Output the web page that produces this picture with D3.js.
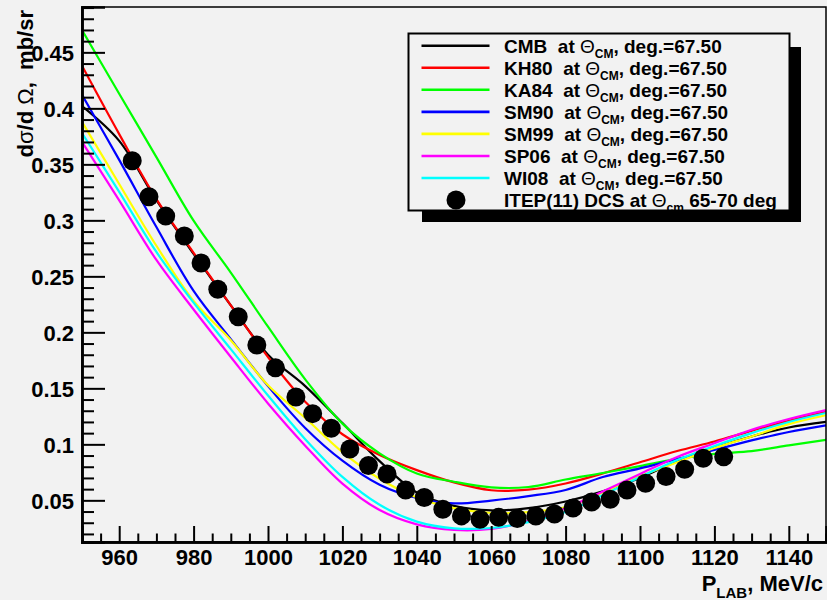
<!DOCTYPE html>
<html>
<head>
<meta charset="utf-8">
<script src="https://cdn.jsdelivr.net/npm/d3@7/dist/d3.min.js"></script>
<style>
  html, body { margin: 0; padding: 0; background: #f2f2f2; }
  svg { display: block; }
  text { font-family: "Liberation Sans", Arial, Helvetica, sans-serif; font-weight: bold; fill: #000; }
</style>
</head>
<body>
<svg id="chart" width="827" height="600"></svg>
<script>
// Momentum grid (MeV/c) on which the model curves are tabulated
const pGrid = [950, 960, 970, 980, 990, 1000, 1010, 1020, 1030, 1040, 1050,
               1060, 1070, 1080, 1090, 1100, 1110, 1120, 1130, 1140, 1150];

// Differential cross sections (mb/sr) at theta_CM = 67.5 deg for each partial-wave solution
const cmb  = [0.402, 0.371, 0.318, 0.270, 0.224, 0.180, 0.152, 0.119, 0.085, 0.057, 0.045,
              0.041, 0.043, 0.049, 0.058, 0.070, 0.085, 0.097, 0.107, 0.115, 0.120];
const kh80 = [0.438, 0.377, 0.319, 0.271, 0.224, 0.178, 0.138, 0.109, 0.0905, 0.077, 0.066,
              0.059, 0.0595, 0.065, 0.074, 0.084, 0.094, 0.1025, 0.112, 0.121, 0.129];
const ka84 = [0.470, 0.413, 0.3565, 0.2997, 0.2534, 0.205, 0.158, 0.1185, 0.092, 0.074, 0.0666,
              0.0616, 0.0619, 0.0686, 0.0744, 0.0806, 0.087, 0.0915, 0.094, 0.099, 0.104];
const sm90 = [0.412, 0.354, 0.294, 0.237, 0.194, 0.152, 0.1146, 0.0854, 0.0639, 0.0521, 0.0473,
              0.0498, 0.0538, 0.0592, 0.0708, 0.0785, 0.0869, 0.095, 0.1035, 0.111, 0.117];
const sm99 = [0.388, 0.3325, 0.2773, 0.228, 0.193, 0.1527, 0.1235, 0.0931, 0.0693, 0.0525, 0.043,
              0.0387, 0.0395, 0.044, 0.057, 0.0717, 0.084, 0.0967, 0.107, 0.118, 0.126];
const sp06 = [0.370, 0.3178, 0.2646, 0.2204, 0.178, 0.1365, 0.0988, 0.0649, 0.0413, 0.0285, 0.0235,
              0.0244, 0.0315, 0.043, 0.058, 0.0735, 0.0887, 0.101, 0.113, 0.1226, 0.1306];
const wi08 = [0.378, 0.3254, 0.2718, 0.2265, 0.185, 0.1436, 0.1046, 0.0709, 0.046, 0.031, 0.025,
              0.0253, 0.0306, 0.0396, 0.0547, 0.0708, 0.086, 0.0985, 0.110, 0.120, 0.128];

const modelNames  = ["CMB", "KH80", "KA84", "SM90", "SM99", "SP06", "WI08"];
const modelValues = [cmb, kh80, ka84, sm90, sm99, sp06, wi08];
const modelColors = ["#000000", "#ff0000", "#00ff00", "#0000ff", "#ffff00", "#ff00ff", "#00ffff"];

// ITEP measurement, theta_cm 65-70 deg
const itepP   = [963.5, 968, 972.5, 977.5, 982, 986.5, 992, 997, 1002, 1007.5, 1012, 1017,
                 1022, 1027, 1032, 1037, 1042, 1047, 1052, 1057, 1062, 1067, 1072, 1077,
                 1082, 1087, 1092, 1096.5, 1101.5, 1107, 1112, 1117, 1122.5];
const itepDcs = [0.3532, 0.3211, 0.3038, 0.2860, 0.2620, 0.2385, 0.2139, 0.1887, 0.1683, 0.1422,
                 0.1274, 0.1143, 0.0958, 0.0811, 0.0735, 0.0592, 0.0525, 0.0420, 0.0361, 0.0331,
                 0.0348, 0.0338, 0.0360, 0.0378, 0.0431, 0.0485, 0.0510, 0.0592, 0.0652, 0.0713,
                 0.0777, 0.0875, 0.0889];

// Axis ticks
const xMajorTicks = [960, 980, 1000, 1020, 1040, 1060, 1080, 1100, 1120, 1140];
const yMajorTicks = [0.05, 0.1, 0.15, 0.2, 0.25, 0.3, 0.35, 0.4, 0.45];
const yTickLabels = ["0.05", "0.1", "0.15", "0.2", "0.25", "0.3", "0.35", "0.4", "0.45"];

const svg = d3.select("#chart");
const plotLeft = 82, plotRight = 826, plotTop = 7, plotBottom = 542;

const x = d3.scaleLinear().domain([950, 1150]).range([plotLeft, plotRight]);
const y = d3.scaleLinear().domain([0.0128, 0.4905]).range([plotBottom, plotTop]);

svg.append("rect").attr("width", 827).attr("height", 600).attr("fill", "#f2f2f2");

svg.append("defs").append("clipPath").attr("id", "plotClip")
  .append("rect").attr("x", plotLeft).attr("y", plotTop)
  .attr("width", plotRight - plotLeft).attr("height", plotBottom - plotTop);

// Model curves
const line = d3.line()
  .x(d => x(d[0]))
  .y(d => y(d[1]))
  .curve(d3.curveCatmullRom.alpha(0.5));

const curves = svg.append("g").attr("clip-path", "url(#plotClip)");
modelValues.forEach((vals, i) => {
  curves.append("path")
    .datum(pGrid.map((p, k) => [p, vals[k]]))
    .attr("d", line)
    .attr("fill", "none")
    .attr("stroke", modelColors[i])
    .attr("stroke-width", 2.2);
});

// Data points
svg.append("g").selectAll("circle")
  .data(itepP.map((p, k) => [p, itepDcs[k]]))
  .join("circle")
  .attr("cx", d => x(d[0]))
  .attr("cy", d => y(d[1]))
  .attr("r", 9.5)
  .attr("fill", "#000");

// Frame
svg.append("rect")
  .attr("x", plotLeft).attr("y", plotTop)
  .attr("width", plotRight - plotLeft).attr("height", plotBottom - plotTop)
  .attr("fill", "none").attr("stroke", "#000").attr("stroke-width", 1.5);

// Y axis
const yMinor = d3.range(2, 50).map(v => v / 100).filter(v => Math.round(v * 100) % 5 !== 0);
const yMinorAxis = svg.append("g").attr("transform", `translate(${plotLeft},0)`)
  .call(d3.axisLeft(y).tickValues(yMinor).tickSize(-12).tickFormat(""));
const yAxis = svg.append("g").attr("transform", `translate(${plotLeft},0)`)
  .call(d3.axisLeft(y).tickValues(yMajorTicks).tickSize(-23).tickPadding(8)
    .tickFormat((d, i) => yTickLabels[i]));

// X axis
const xMinor = d3.range(955, 1150, 5).filter(v => v % 20 !== 0);
const xMinorAxis = svg.append("g").attr("transform", `translate(0,${plotBottom})`)
  .call(d3.axisBottom(x).tickValues(xMinor).tickSize(-8.5).tickFormat(""));
const xAxis = svg.append("g").attr("transform", `translate(0,${plotBottom})`)
  .call(d3.axisBottom(x).tickValues(xMajorTicks).tickSize(-16).tickPadding(8)
    .tickFormat(d3.format("d")));

[yMinorAxis, yAxis, xMinorAxis, xAxis].forEach(g => {
  g.selectAll(".domain").attr("stroke", "#000").attr("stroke-width", 2.5);
  g.selectAll(".tick line").attr("stroke", "#000").attr("stroke-width", 2);
  g.selectAll("text").attr("font-size", 22).attr("font-family", null).attr("fill", "#000");
});
yAxis.selectAll("text").attr("dy", "0.36em");
xAxis.selectAll("text").attr("dy", null).attr("y", 23);

// Axis titles
const yTitle = svg.append("text")
  .attr("transform", "translate(33,10) rotate(-90)")
  .attr("text-anchor", "end")
  .attr("font-size", 22)
  .style("white-space", "pre");
yTitle.append("tspan").text("d");
yTitle.append("tspan").attr("font-weight", "normal").text("σ");
yTitle.append("tspan").text("/d ");
yTitle.append("tspan").attr("font-weight", "normal").text("Ω");
yTitle.append("tspan").text(",  mb/sr");

const xTitle = svg.append("text")
  .attr("x", 823).attr("y", 591)
  .attr("text-anchor", "end")
  .attr("font-size", 22);
xTitle.append("tspan").text("P");
xTitle.append("tspan").attr("font-size", 15).attr("dy", 7).text("LAB");
xTitle.append("tspan").attr("dy", -7).text(", MeV/c");

// Legend
const legend = svg.append("g");
legend.append("rect").attr("x", 422).attr("y", 47).attr("width", 379).attr("height", 175).attr("fill", "#000");
legend.append("rect").attr("x", 408.5).attr("y", 33.5).attr("width", 381).attr("height", 177)
  .attr("fill", "#f2f2f2").attr("stroke", "#000").attr("stroke-width", 2);

const rowY = i => 45.7 + i * 22.05;
modelNames.forEach((name, i) => {
  legend.append("line")
    .attr("x1", 421.5).attr("x2", 489.5)
    .attr("y1", rowY(i)).attr("y2", rowY(i))
    .attr("stroke", modelColors[i]).attr("stroke-width", 2.6);
  const t = legend.append("text")
    .attr("x", 504).attr("y", rowY(i) + 7)
    .attr("font-size", 19)
    .style("white-space", "pre");
  t.append("tspan").text(name + "  at ");
  t.append("tspan").attr("font-weight", "normal").text("Θ");
  t.append("tspan").attr("font-size", 12).attr("dy", 5).text("CM");
  t.append("tspan").attr("dy", -5).text(", deg.=67.50");
});

const lastRow = rowY(modelNames.length);
legend.append("circle").attr("cx", 456).attr("cy", lastRow).attr("r", 9.5).attr("fill", "#000");
const tl = legend.append("text")
  .attr("x", 504).attr("y", lastRow + 7)
  .attr("font-size", 19)
  .style("white-space", "pre");
tl.append("tspan").text("ITEP(11) DCS at ");
tl.append("tspan").attr("font-weight", "normal").text("Θ");
tl.append("tspan").attr("font-size", 12).attr("dy", 5).text("cm");
tl.append("tspan").attr("dy", -5).text(" 65-70 deg");
</script>
</body>
</html>
